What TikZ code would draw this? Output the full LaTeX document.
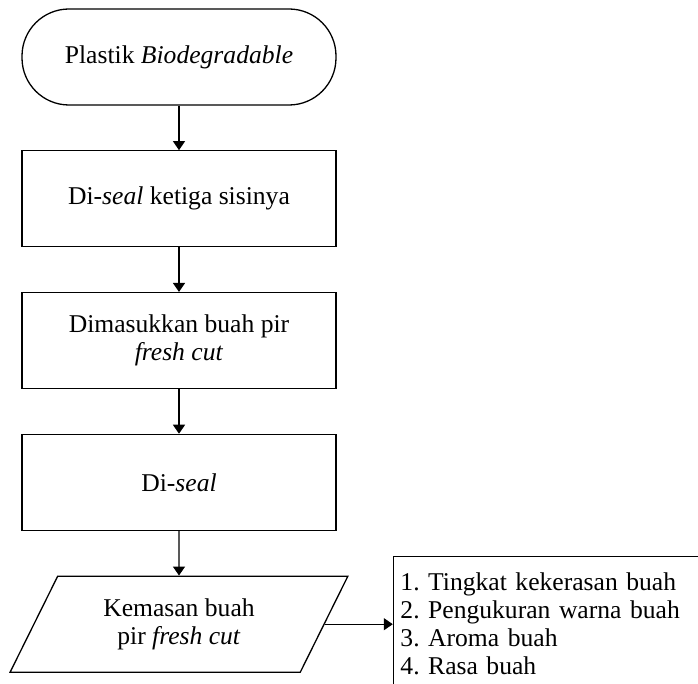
\documentclass[tikz,border=0pt]{standalone}
\usepackage{fontspec}
\setmainfont{Liberation Serif}
\frenchspacing
\usetikzlibrary{positioning, shapes.geometric, arrows.meta}

\begin{document}
\begin{tikzpicture}[x=0.5pt, y=-0.5pt, node distance=22.25pt, line width=0.65pt,
          >={Triangle[width=6pt,length=4.5pt]},
          every node/.style={font=\fontsize{12.8}{14}\selectfont},
          proses/.style={draw, rectangle, minimum width=157pt, minimum height=48pt, align=center},
          mulai/.style={proses, rounded corners=23.5pt},
          data/.style={draw, trapezium, trapezium left angle=63.4, trapezium right angle=116.6,
            trapezium stretches=true, minimum width=169pt, minimum height=48pt, align=center}]
        \useasboundingbox (0,0) rectangle (698,684);
        \clip (0,0) rectangle (698,684);
        \node[mulai] (plastik) at (179,57) {Plastik \textit{Biodegradable}};
        \node[proses] (seal3) [below=of plastik] {Di-\textit{seal} ketiga sisinya};
        \node[proses] (masuk) [below=of seal3] {Dimasukkan buah pir\\ \textit{fresh cut}};
        \node[proses] (seal) [below=of masuk] {Di-\textit{seal}};
        \node[data] (kemasan) [below=of seal] {Kemasan buah\\ pir \textit{fresh cut}};
        \node[draw, minimum width=155pt, minimum height=68pt, text width=148pt, align=left,
          inner sep=3.5pt] (parameter) [right=34pt of kemasan]
          {1. Tingkat kekerasan buah\\ 2. Pengukuran warna buah\\ 3. Aroma buah\\ 4. Rasa buah};
        \draw[->] (plastik) -- (seal3);
        \draw[->] (seal3) -- (masuk);
        \draw[->] (masuk) -- (seal);
        \draw[->] (seal) -- (kemasan);
        \draw[->] (kemasan.east) -- (parameter.west);
      \end{tikzpicture}
\end{document}
